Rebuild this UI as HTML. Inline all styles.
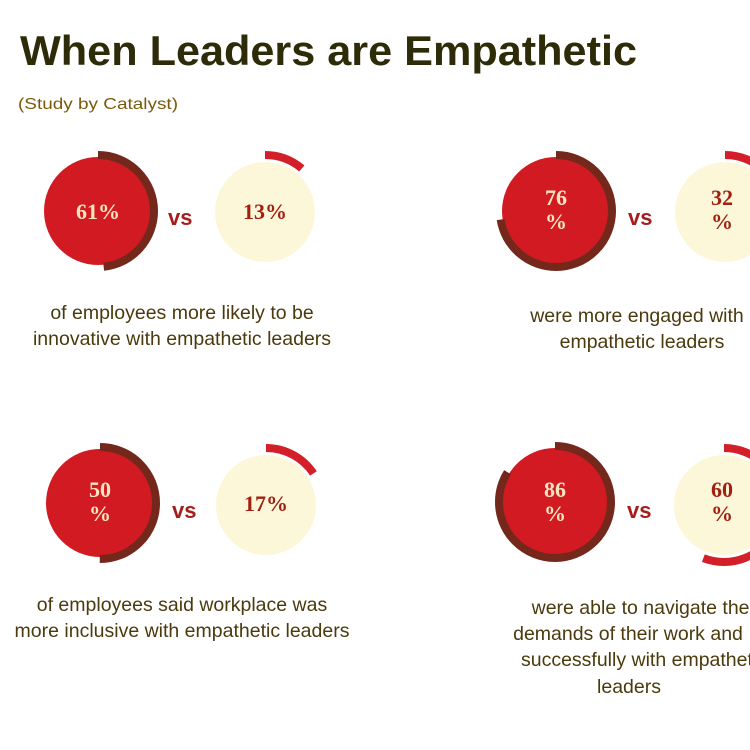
<!DOCTYPE html>
<html><head><meta charset="utf-8"><style>
html,body{margin:0;padding:0;background:#fff;}
svg{display:block;}
.t{font-family:"Liberation Sans",sans-serif;}
.n{font-family:"Liberation Serif",serif;font-weight:bold;font-size:22px;text-anchor:middle;}
.d{font-family:"Liberation Sans",sans-serif;font-size:19.5px;fill:#4a3a0c;text-anchor:middle;}
.vs{font-family:"Liberation Sans",sans-serif;font-weight:bold;font-size:22px;fill:#a41e1e;}
</style></head><body>
<svg width="750" height="750" viewBox="0 0 750 750" xmlns="http://www.w3.org/2000/svg">
<text x="20" y="65" class="t" font-size="42" font-weight="bold" fill="#2e2c08" textLength="617" lengthAdjust="spacingAndGlyphs">When Leaders are Empathetic</text>
<text x="18" y="109" class="t" font-size="16" fill="#7a5a0c" textLength="160" lengthAdjust="spacingAndGlyphs">(Study by Catalyst)</text>

<circle cx="98" cy="211" r="54" fill="#d21a22"/>
<circle cx="98" cy="211" r="56" fill="none" stroke="#74281c" stroke-width="8" stroke-dasharray="170 400" transform="rotate(-90 98 211)"/>
<text x="98" y="219" class="n" fill="#fbe6c0">61%</text>
<text x="168" y="225" class="vs">vs</text>
<circle cx="265" cy="212" r="50" fill="#fdf7da"/>
<circle cx="265" cy="212" r="57" fill="none" stroke="#d21f2a" stroke-width="8" stroke-dasharray="40 400" transform="rotate(-90 265 212)"/>
<text x="265" y="219" class="n" fill="#a02012">13%</text>
<text x="182" y="319" class="d">of employees more likely to be</text>
<text x="182" y="345" class="d">innovative with empathetic leaders</text>

<circle cx="556" cy="211" r="54" fill="#d21a22"/>
<circle cx="556" cy="211" r="56" fill="none" stroke="#74281c" stroke-width="8" stroke-dasharray="255 400" transform="rotate(-90 556 211)"/>
<text x="556" y="205" class="n" fill="#fbe6c0">76</text>
<text x="556" y="229" class="n" fill="#fbe6c0">%</text>
<text x="628" y="225" class="vs">vs</text>
<circle cx="725" cy="212" r="50" fill="#fdf7da"/>
<circle cx="725" cy="212" r="57" fill="none" stroke="#d21f2a" stroke-width="8" stroke-dasharray="112 400" transform="rotate(-90 725 212)"/>
<text x="722" y="205" class="n" fill="#a02012">32</text>
<text x="722" y="229" class="n" fill="#a02012">%</text>
<text x="637" y="322" class="d">were more engaged with</text>
<text x="642" y="348" class="d">empathetic leaders</text>

<circle cx="100" cy="503" r="54" fill="#d21a22"/>
<circle cx="100" cy="503" r="56" fill="none" stroke="#74281c" stroke-width="8" stroke-dasharray="176 400" transform="rotate(-90 100 503)"/>
<text x="100" y="497" class="n" fill="#fbe6c0">50</text>
<text x="100" y="521" class="n" fill="#fbe6c0">%</text>
<text x="172" y="518" class="vs">vs</text>
<circle cx="266" cy="505" r="50" fill="#fdf7da"/>
<circle cx="266" cy="505" r="57" fill="none" stroke="#d21f2a" stroke-width="8" stroke-dasharray="56 400" transform="rotate(-90 266 505)"/>
<text x="266" y="511" class="n" fill="#a02012">17%</text>
<text x="182" y="611" class="d">of employees said workplace was</text>
<text x="182" y="637" class="d">more inclusive with empathetic leaders</text>

<circle cx="555" cy="502" r="54" fill="#d21a22"/>
<circle cx="555" cy="502" r="56" fill="none" stroke="#74281c" stroke-width="8" stroke-dasharray="295 400" transform="rotate(-90 555 502)"/>
<text x="555" y="497" class="n" fill="#fbe6c0">86</text>
<text x="555" y="521" class="n" fill="#fbe6c0">%</text>
<text x="627" y="518" class="vs">vs</text>
<circle cx="724" cy="505" r="50" fill="#fdf7da"/>
<circle cx="724" cy="505" r="57" fill="none" stroke="#d21f2a" stroke-width="8" stroke-dasharray="200 400" transform="rotate(-90 724 505)"/>
<text x="722" y="497" class="n" fill="#a02012">60</text>
<text x="722" y="521" class="n" fill="#a02012">%</text>
<text x="646" y="614" class="d">were able to navigate their</text>
<text x="628" y="640" class="d">demands of their work and</text>
<text x="644" y="666" class="d">successfully with empathetic</text>
<text x="629" y="693" class="d">leaders</text>
</svg>
</body></html>
